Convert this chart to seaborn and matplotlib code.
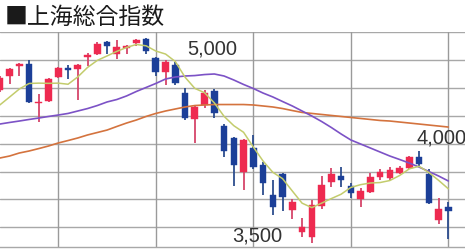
import numpy as np
import pandas as pd
import seaborn as sns
import matplotlib
matplotlib.use("Agg")
import matplotlib.pyplot as plt
from matplotlib import font_manager

# ---- data ----
title = "■上海総合指数"
opens = [4731,4857,4947,4965,4613,4635,4851,4933,4920,5027,5057,5158,5057,5108,5150,5186,5016,4893,4956,4702,
         4468,4597,4725,4408,4298,3998,4208,4058,3789,3978,3655,3453,3410,3690,3909,3960,3870,3751,3819,3948,
         3944,3989,4034,4133,3975,3565,3684]
highs = [4857,4932,4974,5001,4695,4839,4938,4960,4965,5061,5162,5167,5180,5135,5186,5195,5023,5001,4985,4752,
         4597,4731,4738,4426,4310,4292,4328,4088,3924,3984,3751,3587,3744,3960,4029,4043,3894,3849,3989,4020,
         4038,4049,4139,4187,4020,3760,3729]
lows = [4713,4785,4857,4615,4444,4628,4839,4830,4646,4947,5045,5054,5010,5054,5126,5054,4857,4776,4776,4462,
        4253,4567,4477,4133,3870,3834,4023,3789,3610,3648,3571,3412,3356,3661,3864,3858,3760,3679,3804,3924,
        3924,3975,4020,4049,3708,3529,3390]
closes = [4839,4917,4965,4626,4619,4827,4926,4915,4956,5045,5141,5129,5120,5129,5180,5081,4896,4985,4791,4477,
          4582,4702,4528,4187,4058,4283,4043,3900,3679,3774,3729,3499,3699,3879,3978,3924,3804,3825,3953,3998,
          4014,4029,4127,4067,3720,3663,3648]
ma5 = [4597,4668,4740,4790,4793,4791,4793,4783,4849,4934,4997,5037,5078,5113,5140,5128,5081,5054,4987,4846,
       4746,4707,4616,4495,4411,4352,4220,4094,3993,3936,3825,3716,3676,3716,3757,3796,3857,3882,3897,3901,
       3919,3964,4024,4047,3991,3921,3845]
ma25 = [4426,4440,4453,4467,4480,4494,4507,4521,4543,4565,4592,4624,4646,4678,4718,4754,4790,4830,4848,4857,
        4861,4870,4875,4857,4821,4781,4745,4704,4669,4628,4588,4543,4498,4449,4395,4337,4283,4247,4211,4175,
        4139,4108,4076,4040,4000,3960,3915]
ma75 = [4121,4139,4166,4184,4206,4229,4256,4278,4301,4328,4350,4372,4404,4435,4462,4494,4521,4543,4561,4579,
        4592,4597,4601,4601,4601,4601,4597,4588,4579,4565,4547,4530,4521,4512,4503,4494,4485,4476,4467,4458,
        4453,4444,4435,4426,4417,4408,4399]
grid_levels = [3500, 3750, 4000, 4250, 4500, 4750, 5000, 5250]
price_labels = ["5,000", "4,000", "3,500"]

# ---- styling ----
sns.set_theme(style="white")
plt.rcParams['font.family'] = ['Noto Sans CJK JP', 'DejaVu Sans']

avail = {f.name for f in font_manager.fontManager.ttflist}
if 'Liberation Sans Narrow' in avail:
    num_family, num_size = 'Liberation Sans Narrow', 16.5
else:
    num_family, num_size = 'Liberation Sans', 14.5

n = len(opens)
idx = np.arange(n)
df = pd.DataFrame({"i": idx, "open": opens, "high": highs, "low": lows, "close": closes,
                   "ma5": ma5, "ma25": ma25, "ma75": ma75})

W, H = 465, 250
fig = plt.figure(figsize=(W / 100, H / 100), dpi=100)
ax_top, ax_bot = 32.2, 247.3
ax = fig.add_axes([0, (H - ax_bot) / H, 1, (ax_bot - ax_top) / H])
ax.set_facecolor("white")

ax.set_xlim(0.02, 47.71)
ax.set_ylim(3320, 5250)

# grid
for g in grid_levels:
    ax.axhline(g, color="#a8a8a8", lw=1.0, zorder=0)
for v in [6, 16, 26, 36, 46]:
    ax.axvline(v, color="#9a9a9a", lw=1.0, zorder=0)

red_body, red_wick = "#ee2a50", "#d6456a"
blue_body, blue_wick = "#1c3f98", "#2d4d8e"

up = df["close"] >= df["open"]
for is_up, bc, wc in [(True, red_body, red_wick), (False, blue_body, blue_wick)]:
    sub = df[up == is_up]
    ax.vlines(sub["i"], sub["low"], sub["high"], color=wc, lw=1.3, zorder=2)
    bottom = np.minimum(sub["open"], sub["close"])
    height = np.maximum(np.abs(sub["close"] - sub["open"]), 14)
    ax.bar(sub["i"], height, bottom=bottom, width=0.68, color=bc, edgecolor=bc, lw=0.3, zorder=3)

sns.lineplot(data=df, x="i", y="ma75", ax=ax, color="#d4733e", lw=1.2, zorder=4)
sns.lineplot(data=df, x="i", y="ma25", ax=ax, color="#7c52c6", lw=1.2, zorder=4)
sns.lineplot(data=df, x="i", y="ma5", ax=ax, color="#c3cc6c", lw=1.1, zorder=5)

ax.set_xticks([])
ax.set_yticks([])
ax.set_xlabel("")
ax.set_ylabel("")
for s in ["top", "left", "right"]:
    ax.spines[s].set_visible(False)
ax.spines["bottom"].set_color("#a8a8a8")
ax.spines["bottom"].set_linewidth(1.0)

# price labels
ax.text(21.8, 5099, price_labels[0], ha="center", va="center", fontsize=num_size,
        family=num_family, color="#333333", zorder=6)
ax.text(42.76, 4301, price_labels[1], ha="left", va="center", fontsize=num_size,
        family=num_family, color="#333333", zorder=6, clip_on=False)
ax.text(26.38, 3421, price_labels[2], ha="center", va="center", fontsize=num_size,
        family=num_family, color="#333333", zorder=6)

fig.text(5 / W, 1 - 17 / H, title, ha="left", va="center", fontsize=16.5,
         family=['Noto Sans CJK JP', 'DejaVu Sans'], color="#1a1a1a")

fig.savefig("out.png", dpi=100)
